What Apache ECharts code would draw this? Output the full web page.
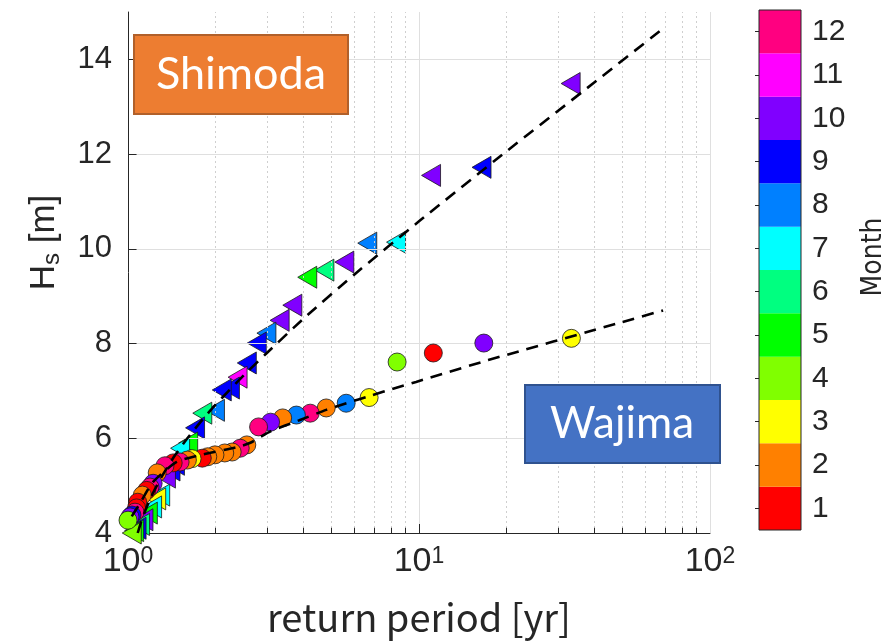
<!DOCTYPE html>
<html>
<head>
<meta charset="utf-8">
<script src="https://cdn.jsdelivr.net/npm/echarts@6/dist/echarts.min.js"></script>
<style>
  html, body { margin: 0; padding: 0; background: #fff; }
  #chart { width: 889px; height: 643px; }
</style>
</head>
<body>
<div id="chart"></div>
<script>
// Month colour scale (1 = Jan ... 12 = Dec)
const months = [1, 2, 3, 4, 5, 6, 7, 8, 9, 10, 11, 12];
const monthColors = ['#FF0000', '#FF8000', '#FFFF00', '#80FF00', '#00FF00', '#00FF80',
                     '#00FFFF', '#0080FF', '#0000FF', '#8000FF', '#FF00FF', '#FF0080'];

// Shimoda annual maxima: return period [yr], Hs [m], month of occurrence
const shimodaPeriod = [33.2, 16.4, 11.0, 8.34, 6.64, 5.54, 4.73, 4.13, 3.67, 3.32,
                       2.99, 2.77, 2.56, 2.38, 2.24, 2.10, 1.99, 1.80, 1.70, 1.61,
                       1.51, 1.45, 1.40, 1.35, 1.29, 1.25, 1.21, 1.17, 1.13, 1.10,
                       1.07, 1.05, 1.03];
const shimodaHs = [13.49, 11.72, 11.55, 10.14, 10.12, 9.72, 9.55, 9.40, 8.81, 8.49,
                   8.22, 8.01, 7.59, 7.29, 7.06, 7.02, 6.59, 6.53, 6.22, 5.90,
                   5.79, 5.45, 5.33, 5.18, 4.80, 4.72, 4.55, 4.42, 4.28, 4.18,
                   4.10, 4.05, 4.00];
const shimodaMonth = [10, 9, 10, 7, 8, 10, 6, 5, 10, 10,
                      8, 9, 9, 11, 9, 9, 8, 6, 9, 5,
                      7, 9, 9, 10, 7, 3, 7, 5, 10, 6,
                      9, 5, 4];

// Wajima annual maxima
const wajimaPeriod = [33.4, 16.7, 11.2, 8.41, 6.74, 5.62, 4.80, 4.23, 3.79, 3.40,
                      3.09, 2.81, 2.56, 2.43, 2.28, 2.15, 1.99, 1.88, 1.80, 1.66,
                      1.60, 1.51, 1.43, 1.34, 1.26, 1.22, 1.19, 1.16, 1.12, 1.08,
                      1.07, 1.057, 1.032, 1.016, 1.0];
const wajimaHs = [8.11, 8.01, 7.80, 7.61, 6.86, 6.74, 6.64, 6.53, 6.49, 6.43,
                  6.34, 6.24, 5.86, 5.79, 5.71, 5.69, 5.65, 5.61, 5.58, 5.57,
                  5.54, 5.50, 5.48, 5.42, 5.27, 5.05, 4.97, 4.90, 4.80, 4.65,
                  4.53, 4.44, 4.38, 4.34, 4.27];
const wajimaMonth = [3, 10, 1, 4, 3, 8, 2, 12, 8, 2,
                     10, 12, 2, 12, 2, 2, 2, 2, 1, 3,
                     2, 12, 1, 12, 2, 10, 12, 1, 2, 1,
                     1, 12, 9, 10, 4];

// Fitted extreme-value curves
const shimodaFitPeriod = [1.08, 1.12, 1.2, 1.3, 1.45, 1.6, 1.8, 2.0, 2.5, 3.0, 4.0, 6.0, 10, 20, 40, 69];
const shimodaFitHs = [4.0, 4.31, 4.76, 5.17, 5.64, 6.0, 6.39, 6.71, 7.33, 7.8, 8.52, 9.46, 10.58, 12.06, 13.51, 14.65];
const wajimaFitPeriod = [1.03, 1.1, 1.22, 1.47, 1.81, 2.36, 2.62, 3.1, 3.88, 4.8, 5.63, 6.9, 8.09, 9.77, 17.3, 48.4, 69];
const wajimaFitHs = [4.35, 4.63, 5.08, 5.5, 5.66, 5.81, 5.9, 6.15, 6.38, 6.6, 6.74, 6.91, 7.04, 7.19, 7.65, 8.43, 8.7];

// Axis ticks
const hsTicks = [4, 6, 8, 10, 12, 14];
const periodDecades = [1, 10, 100];
const periodMinor = [2, 3, 4, 5, 6, 7, 8, 9, 20, 30, 40, 50, 60, 70, 80, 90];

const INK = '#262626';
const TICK_FONT = 'Liberation Sans, Arial, sans-serif';

function points(xs, ys) { return xs.map((x, i) => [x, ys[i]]); }
function markers(xs, ys, ms) {
  return xs.map((x, i) => ({ value: [x, ys[i]], itemStyle: { color: monthColors[ms[i] - 1] } }));
}

// grid guides drawn through the axes' own scales
const guideLines = [];
hsTicks.filter(v => v > 4).forEach(v => {
  guideLines.push([{ coord: [1, v], lineStyle: { color: '#DFDFDF', width: 1, type: 'solid' } }, { coord: [100, v] }]);
});
periodDecades.filter(v => v > 1).forEach(v => {
  guideLines.push([{ coord: [v, 4], lineStyle: { color: '#DFDFDF', width: 1, type: 'solid' } }, { coord: [v, 15] }]);
});
periodMinor.forEach(v => {
  guideLines.push([{ coord: [v, 4], lineStyle: { color: '#CFCFCF', width: 1, type: [2, 3] } }, { coord: [v, 15] }]);
});
// inward tick marks
const tickLines = [];
hsTicks.filter(v => v > 4).forEach(v => {
  tickLines.push([{ coord: [1, v] }, { coord: [1.07, v] }]);
});
periodDecades.filter(v => v > 1 && v < 100).forEach(v => {
  tickLines.push([{ coord: [v, 4] }, { coord: [v, 4.19] }]);
});
periodMinor.forEach(v => {
  tickLines.push([{ coord: [v, 4] }, { coord: [v, 4.11] }]);
});

const chart = echarts.init(document.getElementById('chart'), null, { renderer: 'canvas' });

const option = {
  animation: false,
  backgroundColor: '#ffffff',
  grid: [
    { left: 128, top: 12, width: 582, height: 521 },
    { left: 759, top: 10, width: 44, height: 520, show: true, borderColor: INK, borderWidth: 1, backgroundColor: 'transparent', z: 10 }
  ],
  xAxis: [
    {
      type: 'log', logBase: 10, min: 1, max: 100, gridIndex: 0,
      axisLine: { show: true, onZero: false, lineStyle: { color: INK, width: 1 } },
      axisTick: { show: false },
      splitLine: { show: false },
      axisLabel: {
        margin: 12,
        formatter: v => '{b|10}{s|' + Math.round(Math.log10(v)) + '}',
        rich: {
          b: { fontSize: 34, fontFamily: TICK_FONT, color: INK },
          s: { fontSize: 23, fontFamily: TICK_FONT, color: INK, verticalAlign: 'top' }
        }
      },
      name: 'return period [yr]',
      nameLocation: 'middle',
      nameGap: 66,
      nameTextStyle: { fontFamily: 'Noto Sans CJK JP', fontSize: 38, color: INK }
    },
    { type: 'value', gridIndex: 1, min: 0, max: 1, show: false }
  ],
  yAxis: [
    {
      type: 'value', min: 4, max: 15, interval: 2, gridIndex: 0,
      axisLine: { show: true, onZero: false, lineStyle: { color: INK, width: 1 } },
      axisTick: { show: false },
      splitLine: { show: false },
      axisLabel: {
        margin: 16, fontSize: 31, fontFamily: TICK_FONT, color: INK,
        formatter: v => (hsTicks.indexOf(v) >= 0 ? String(v) : '')
      },
      name: '{h|H}{s|s}{h| [m]}',
      nameLocation: 'middle',
      nameRotate: 90,
      nameGap: 64,
      nameTextStyle: {
        padding: [0, 0, 0, 60],
        rich: {
          h: { fontSize: 35, fontFamily: TICK_FONT, color: INK },
          s: { fontSize: 24, fontFamily: TICK_FONT, color: INK, padding: [16, 0, 0, 0] }
        }
      }
    },
    {
      type: 'category', gridIndex: 1, position: 'right',
      data: months.map(String),
      axisLine: { show: false },
      axisTick: { show: true, inside: true, alignWithLabel: true, length: 4, lineStyle: { color: INK } },
      axisLabel: { margin: 11, fontSize: 30, fontFamily: TICK_FONT, color: INK },
      splitLine: { show: false },
      name: 'Month',
      nameLocation: 'middle',
      nameRotate: 90,
      nameGap: 59,
      nameTextStyle: { fontSize: 28, fontFamily: '"Liberation Sans Narrow", "DejaVu Sans Condensed", "Liberation Sans", sans-serif', color: INK, padding: [0, 0, 0, 26] }
    }
  ],
  series: [
    {
      name: 'guides', type: 'scatter', xAxisIndex: 0, yAxisIndex: 0, data: [], z: 1, silent: true,
      markLine: { silent: true, symbol: 'none', label: { show: false }, animation: false, data: guideLines }
    },
    {
      name: 'ticks', type: 'scatter', xAxisIndex: 0, yAxisIndex: 0, data: [], z: 3, silent: true,
      markLine: { silent: true, symbol: 'none', label: { show: false }, animation: false,
                  lineStyle: { color: INK, width: 1, type: 'solid' }, data: tickLines }
    },
    {
      name: 'Shimoda', type: 'scatter', xAxisIndex: 0, yAxisIndex: 0, z: 4, clip: false,
      symbol: 'triangle', symbolRotate: 90, symbolSize: [22, 19],
      itemStyle: { borderColor: '#1a1a1a', borderWidth: 0.8, opacity: 1 },
      data: markers(shimodaPeriod, shimodaHs, shimodaMonth)
    },
    {
      name: 'Wajima', type: 'scatter', xAxisIndex: 0, yAxisIndex: 0, z: 5, clip: false,
      symbol: 'circle', symbolSize: 18,
      itemStyle: { borderColor: '#1a1a1a', borderWidth: 0.8, opacity: 1 },
      data: markers(wajimaPeriod, wajimaHs, wajimaMonth)
    },
    {
      name: 'Shimoda fit', type: 'line', xAxisIndex: 0, yAxisIndex: 0, z: 6,
      showSymbol: false, smooth: 0.2, clip: true,
      lineStyle: { color: '#000', width: 2.6, type: [12, 8] },
      data: points(shimodaFitPeriod, shimodaFitHs)
    },
    {
      name: 'Wajima fit', type: 'line', xAxisIndex: 0, yAxisIndex: 0, z: 6,
      showSymbol: false, smooth: 0.2, clip: true,
      lineStyle: { color: '#000', width: 2.6, type: [12, 8] },
      data: points(wajimaFitPeriod, wajimaFitHs)
    },
    {
      name: 'Month scale', type: 'bar', xAxisIndex: 1, yAxisIndex: 1,
      barWidth: '100%', barCategoryGap: 0, silent: true,
      data: months.map(m => ({ value: 1, itemStyle: { color: monthColors[m - 1] } }))
    }
  ],
  graphic: [
    {
      type: 'group', left: 133, top: 34, z: 100, zlevel: 1,
      children: [
        { type: 'rect', z: 100, shape: { x: 0, y: 0, width: 214, height: 79 },
          style: { fill: '#ED7D31', stroke: '#B1602A', lineWidth: 2 } },
        { type: 'text', z: 101, x: 107, y: 39,
          style: { text: 'Shimoda', fill: '#ffffff', font: '45px Lato, "Open Sans", sans-serif',
                   textAlign: 'center', textVerticalAlign: 'middle' } }
      ]
    },
    {
      type: 'group', left: 524, top: 384, z: 100, zlevel: 1,
      children: [
        { type: 'rect', z: 100, shape: { x: 0, y: 0, width: 195, height: 78 },
          style: { fill: '#4472C4', stroke: '#2F528F', lineWidth: 2 } },
        { type: 'text', z: 101, x: 97, y: 39,
          style: { text: 'Wajima', fill: '#ffffff', font: '44px Lato, "Open Sans", sans-serif',
                   textAlign: 'center', textVerticalAlign: 'middle' } }
      ]
    }
  ]
};

chart.setOption(option);
</script>
</body>
</html>
